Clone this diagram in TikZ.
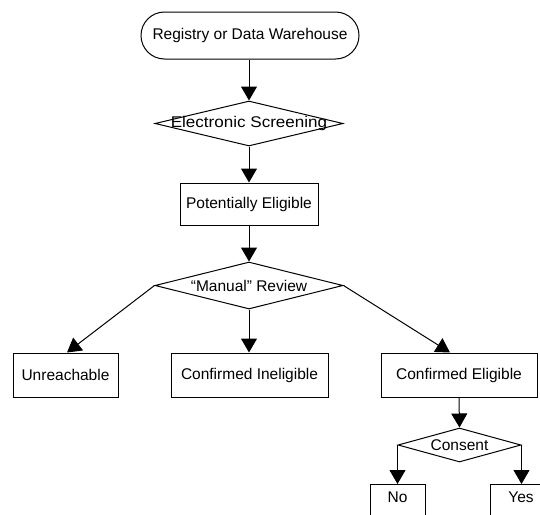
\documentclass[tikz,border=0pt]{standalone}
\usepackage{fontspec}
\setmainfont{Liberation Sans}
\usepackage{graphicx}
\usetikzlibrary{arrows.meta,shapes.geometric}
\begin{document}
\begin{tikzpicture}[x=1pt,y=-1pt,
  base/.style={draw=black, line width=1pt, font=\fontsize{15.5pt}{18pt}\selectfont, inner sep=0pt},
  box/.style={base, rectangle, minimum height=44pt},
  term/.style={base, rectangle, rounded corners=23.5pt},
  diam/.style={base, diamond},
  arr/.style={line width=1pt, -{Triangle[length=14pt,width=16pt]}}]
\useasboundingbox (0,0) rectangle (540,514);
\clip (0,0) rectangle (540,514);
\node[term, minimum width=218pt, minimum height=47pt] (reg) at (250,35.5) {Registry or Data Warehouse};
\node[diam, minimum width=188pt, minimum height=45pt] (es) at (249,123.5) {\makebox[0pt]{\scalebox{1.1}[1]{Electronic Screening}}};
\node[box, minimum width=138pt, minimum height=42pt] (pe) at (249,204) {Potentially Eligible};
\node[diam, minimum width=188pt, minimum height=47pt] (mr) at (249,285.5) {\makebox[0pt]{``Manual'' Review}};
\node[box, minimum width=105pt] (un) at (65.5,375) {Unreachable};
\node[box, minimum width=157pt] (ci) at (249.5,375) {Confirmed Ineligible};
\node[box, minimum width=156pt] (ce) at (459,375) {Confirmed Eligible};
\node[diam, minimum width=123pt, minimum height=34pt] (cons) at (459.5,445) {\makebox[0pt]{Consent}};
\node[base, rectangle, anchor=north, minimum width=55pt, inner ysep=6pt, text height=11.5pt, text depth=30pt] (no) at (397.5,484) {No};
\node[base, rectangle, anchor=north, minimum width=62pt, inner ysep=6pt, text height=11.5pt, text depth=30pt] (yes) at (521,484) {Yes};
\draw[arr] (reg.south -| es.north) -- (es.north);
\draw[arr] (es.south) -- (pe.north);
\draw[arr] (pe.south) -- (mr.north);
\draw[arr] (mr.south) -- (ci.north -| mr.south);
\draw[arr] (mr.west) -- ([xshift=1.5pt]un.north);
\draw[arr] (mr.east) -- ([xshift=-9pt]ce.north);
\draw[arr] (ce.south) -- (cons.north);
\draw[arr] (cons.west) -- (cons.west |- no.north);
\draw[arr] (cons.east) -- (cons.east |- yes.north);
\end{tikzpicture}
\end{document}
